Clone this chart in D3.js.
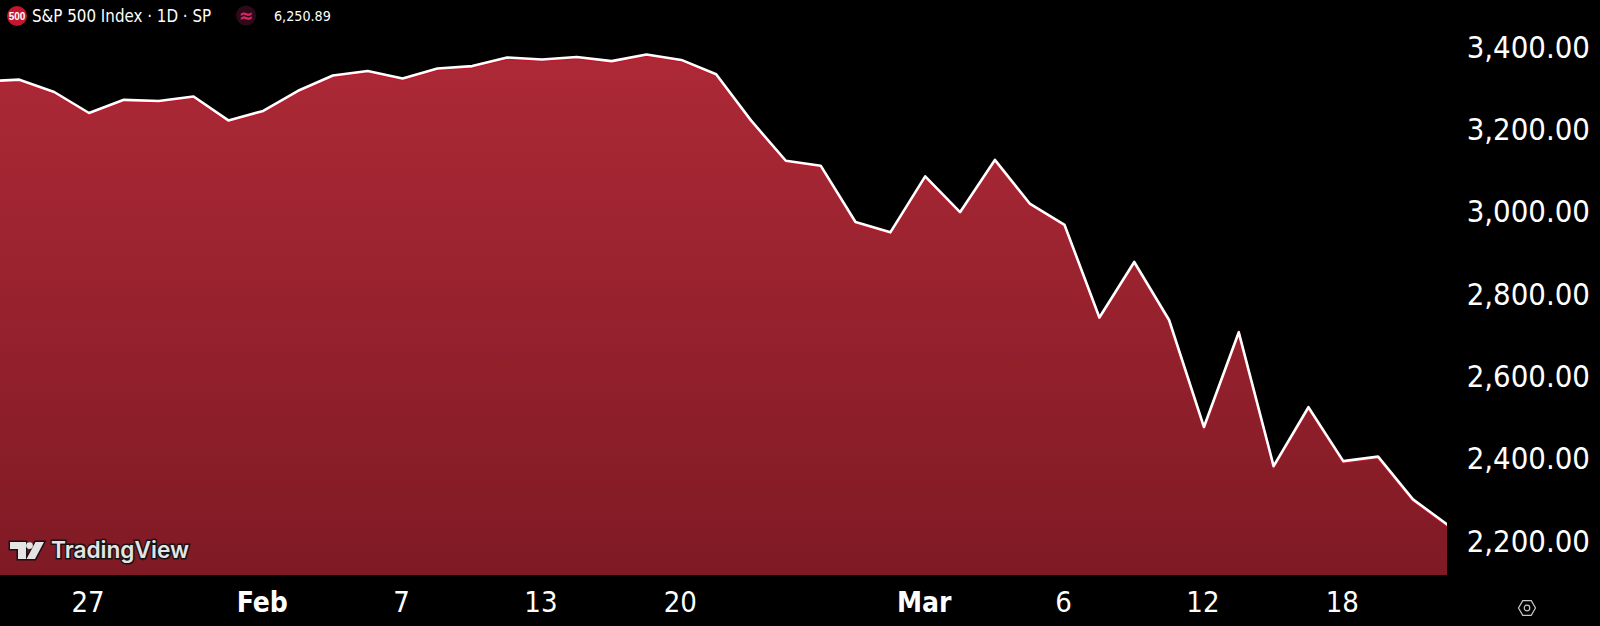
<!DOCTYPE html>
<html><head><meta charset="utf-8">
<script src="https://cdn.jsdelivr.net/npm/d3@7"></script>
<style>html,body{margin:0;padding:0;background:#000;overflow:hidden}svg{display:block}</style>
</head><body><svg id="c" width="1600" height="626"></svg>
<script>
const dates=["Jan 22","Jan 23","Jan 24","Jan 27","Jan 28","Jan 29","Jan 30","Jan 31","Feb 3","Feb 4","Feb 5","Feb 6","Feb 7","Feb 10","Feb 11","Feb 12","Feb 13","Feb 14","Feb 18","Feb 19","Feb 20","Feb 21","Feb 24","Feb 25","Feb 26","Feb 27","Feb 28","Mar 2","Mar 3","Mar 4","Mar 5","Mar 6","Mar 9","Mar 10","Mar 11","Mar 12","Mar 13","Mar 16","Mar 17","Mar 18","Mar 19","Mar 20","Mar 23"];
const closes=[3321,3325,3295,3244,3276,3273,3284,3226,3249,3298,3335,3346,3328,3352,3358,3379,3374,3380,3370,3386,3373,3338,3226,3128,3116,2979,2954,3090,3003,3130,3024,2972,2747,2882,2741,2481,2711,2386,2529,2398,2409,2305,2243];
const priceTicks=[3400,3200,3000,2800,2600,2400,2200];
const dateTicks=["Jan 27","Feb 3","Feb 7","Feb 13","Feb 20","Mar 2","Mar 6","Mar 12","Mar 18"];
const dateLabels=["27","Feb","7","13","20","Mar","6","12","18"];
const boldLabels=["Feb","Mar"];
const title="S&P 500 Index · 1D · SP";
const lastValue="6,250.89";

const W=1600,H=626,plotR=1447,plotB=575;
const font="'DejaVu Sans Condensed','DejaVu Sans',sans-serif";
const svg=d3.select("#c");
svg.append("rect").attr("width",W).attr("height",H).attr("fill","#000");
const x=d3.scalePoint().domain(dates).range([-15.5,1447.8]);
const y=d3.scaleLinear().domain([2200,3400]).range([542.6,48.8]);
const defs=svg.append("defs");
const g=defs.append("linearGradient").attr("id","fill").attr("gradientUnits","userSpaceOnUse")
  .attr("x1",0).attr("x2",0).attr("y1",y(d3.max(closes))).attr("y2",plotB);
g.append("stop").attr("offset",0).attr("stop-color","#ad2937");
g.append("stop").attr("offset",1).attr("stop-color","#7f1a24");
defs.append("clipPath").attr("id","plot").append("rect").attr("x",0).attr("y",0).attr("width",plotR).attr("height",plotB);

const pts=dates.map((d,i)=>({d,v:closes[i]}));
const clip=svg.append("g").attr("clip-path","url(#plot)");
const lineGen=d3.line().x(d=>x(d.d)).y(d=>y(d.v));
clip.append("path").datum(pts).attr("fill","url(#fill)")
  .attr("d",d3.area().x(d=>x(d.d)).y0(plotB).y1(d=>y(d.v)));
clip.append("path").datum(pts).attr("fill","none").attr("stroke","#c2152b").attr("stroke-width",2.4).attr("transform","translate(0,1.3)").attr("d",lineGen);
clip.append("path").datum(pts).attr("fill","none").attr("stroke","#fff").attr("stroke-width",2.6).attr("stroke-linejoin","round").attr("d",lineGen);

const ya=svg.append("g").attr("transform","translate(1590,-2.6)")
  .call(d3.axisLeft(y).tickValues(priceTicks).tickSize(0).tickPadding(0).tickFormat(d3.format(",.2f")));
ya.select(".domain").remove();
ya.selectAll("text").attr("fill","#fff").attr("font-family",font).attr("font-size",30.8).attr("text-anchor","end").attr("dy","0.36em");

const xa=svg.append("g").attr("transform","translate(-1.5,"+plotB+")")
  .call(d3.axisBottom(x).tickValues(dateTicks).tickSize(0).tickPadding(0).tickFormat(d=>dateLabels[dateTicks.indexOf(d)]));
xa.select(".domain").remove();
xa.selectAll("text").attr("fill","#fff").attr("font-family",font).attr("y",29).attr("dy",0)
  .attr("dominant-baseline","middle")
  .attr("font-size",function(){return boldLabels.includes(this.textContent)?28:29})
  .attr("font-weight",function(){return boldLabels.includes(this.textContent)?"bold":"normal"});

// legend
svg.append("circle").attr("cx",17).attr("cy",16).attr("r",10).attr("fill","#c4162e");
svg.append("text").attr("x",17).attr("y",19.5).attr("text-anchor","middle").attr("fill","#fff").attr("font-family","'Liberation Sans',sans-serif").attr("font-weight","bold").attr("font-size",10).text("500");
svg.append("text").attr("x",32).attr("y",21.5).attr("fill","#fff").attr("font-family",font).attr("font-size",16.8).text(title);
svg.append("circle").attr("cx",246).attr("cy",15.5).attr("r",10).attr("fill","#2d0a1a");
svg.append("text").attr("x",246).attr("y",22).attr("text-anchor","middle").attr("fill","#e0245e").attr("font-family",font).attr("font-weight","bold").attr("font-size",19).text("≈");
svg.append("text").attr("x",274).attr("y",20.5).attr("fill","#fff").attr("font-family",font).attr("font-size",14.2).text(lastValue);

// TradingView watermark
const logo=svg.append("g").attr("transform","translate(10,541)");
const ink="#e4e4e4",edge="#1a1012";
logo.append("path").attr("d","M0,1H16V18H8V8H0Z M25.5,1H34L25,18H16.5Z").attr("fill",ink).attr("stroke",edge).attr("stroke-width",3).attr("paint-order","stroke");
logo.append("circle").attr("cx",19.5).attr("cy",4.6).attr("r",3.4).attr("fill",ink);
logo.append("text").attr("x",41).attr("y",17).attr("fill",ink).attr("stroke",edge).attr("stroke-width",3).attr("paint-order","stroke")
  .attr("font-family","Inter,sans-serif").attr("font-weight","600").attr("font-size",23)
  .attr("textLength",138).attr("lengthAdjust","spacingAndGlyphs").text("TradingView");

// settings hexagon
const hex=d3.range(6).map(i=>{const a=i*Math.PI/3;return [1527+8.5*Math.cos(a),608+8.5*Math.sin(a)]});
svg.append("path").attr("d",d3.line()(hex)+"Z").attr("fill","none").attr("stroke","#c8c8c8").attr("stroke-width",1.2);
svg.append("circle").attr("cx",1527).attr("cy",608).attr("r",2.8).attr("fill","none").attr("stroke","#c8c8c8").attr("stroke-width",1.2);
</script></body></html>
